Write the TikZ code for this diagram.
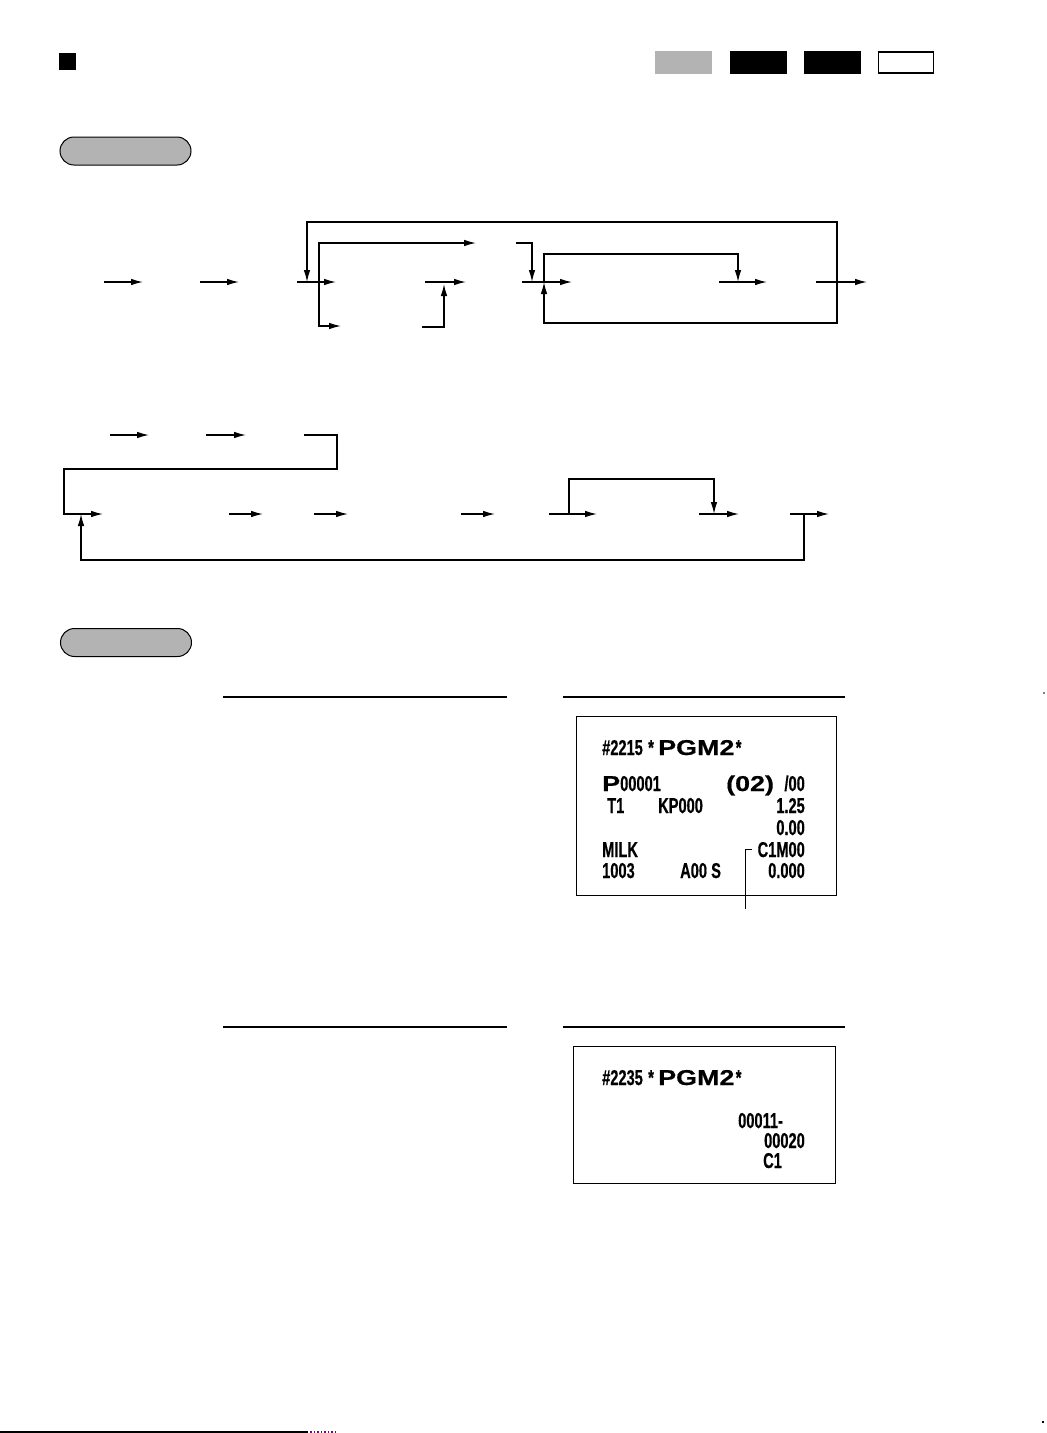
\documentclass[tikz,border=0pt]{standalone}
\usepackage{fontspec}
\usepackage{xcolor}
\usetikzlibrary{arrows.meta, positioning}
\definecolor{keygray}{HTML}{B3B3B3}
\newfontfamily\slipfont{Liberation Sans}[FakeStretch=0.68, FakeBold=0.5]
\newfontfamily\wideslip{Liberation Sans}[FakeStretch=1.25, FakeBold=0.6]

\begin{document}
\begin{tikzpicture}[x=1pt, y=-1pt,
    arrow/.style={line width=1.2pt, -{Latex[length=12pt,width=6.5pt]}},
    tab/.style={inner sep=0, minimum width=57pt, minimum height=23pt},
    pill/.style={draw, line width=1pt, fill=keygray, rounded corners=14pt, minimum width=131pt, minimum height=28pt},
    slip/.style={draw, line width=1pt, inner sep=0},
    rule/.style={line width=1.3pt},
    prt/.style={inner sep=0, anchor=base west, font=\slipfont\bfseries\fontsize{21.5}{24}\selectfont},
    prtr/.style={prt, anchor=base east},
    wide/.style={inner sep=0, anchor=base west, font=\wideslip\bfseries\fontsize{21.5}{24}\selectfont}
]
\useasboundingbox (0,0) rectangle (1047,1433);

\node[fill=black, inner sep=0, minimum size=17pt] (mark) at (67.5,61.5) {};
\node[tab, fill=keygray] (tabA) at (683.5,62.5) {};
\node[tab, fill=black] (tabB) at (758.5,62.5) {};
\node[tab, fill=black] (tabC) at (832.5,62.5) {};
\node[tab, draw, line width=1.5pt, minimum width=55pt, minimum height=21pt] (tabD) at (906,62.5) {};

\node[pill] (proc) at (125.5,151) {};
\node[pill] (exmp) at (126,642.5) {};

% first sequence
\foreach \n/\xa/\xb in {1/104/143, 2/200/239, 3/297/336, 4/425/466, 5/522/572, 6/719/767, 7/816/867}{
  \coordinate (u\n) at (\xa,282);
  \coordinate (v\n) at (\xb,282);
  \draw[arrow] (u\n) -- (v\n);
}
\coordinate (back) at (837,282);
\coordinate (topl) at (307,222);
\coordinate (in1) at (307,282);
\coordinate (botl) at (544,323);
\coordinate (in2) at (544,282);
\draw[arrow] (back) |- (topl) -- (in1);
\draw[arrow] (back) |- (botl) -- (in2);

\coordinate (fork1) at (319,282);
\coordinate (alt1) at (476,243);
\coordinate (alt2) at (341,326);
\draw[arrow] (fork1) |- (alt1);
\draw[arrow] (fork1) |- (alt2);
\coordinate (alt1e) at (516,243);
\coordinate (join2) at (532,282);
\draw[arrow] (alt1e) -| (join2);
\coordinate (alt2e) at (422,327);
\coordinate (join1) at (444,284);
\draw[arrow] (alt2e) -| (join1);

\coordinate (skip) at (738,254);
\coordinate (join3) at (738,282);
\draw[arrow] (in2) |- (skip) -- (join3);

% second sequence
\foreach \n/\xa/\xb in {1/110/149, 2/206/246}{
  \coordinate (w\n) at (\xa,435);
  \coordinate (z\n) at (\xb,435);
  \draw[arrow] (w\n) -- (z\n);
}
\foreach \n/\xa/\xb in {3/229/263, 4/314/348, 5/461/495, 6/549/597, 7/699/739, 8/790/829}{
  \coordinate (w\n) at (\xa,514);
  \coordinate (z\n) at (\xb,514);
  \draw[arrow] (w\n) -- (z\n);
}
\coordinate (wrapA) at (304,435);
\coordinate (wrapB) at (337,469);
\coordinate (wrapC) at (64,514);
\coordinate (in3) at (103,514);
\draw[arrow] (wrapA) -| (wrapB) -| (wrapC) -- (in3);

\coordinate (back2) at (804,514);
\coordinate (botl2) at (81,560);
\coordinate (in4) at (81,514);
\draw[arrow] (back2) |- (botl2) -- (in4);

\coordinate (fork3) at (569,514);
\coordinate (skip2) at (714,479);
\coordinate (join4) at (714,514);
\draw[arrow] (fork3) |- (skip2) -- (join4);

% print outs
\draw[rule] (223,697) -- (507,697);
\draw[rule] (563,697) -- (845,697);
\draw[rule] (223,1027) -- (507,1027);
\draw[rule] (563,1027) -- (845,1027);

\node[slip, minimum width=260pt, minimum height=179pt] (slipA) at (706,805.5) {};
\node[prt] (hdA) at (602,755) {\#2215};
\node[prt] (stA0) at (648,755) {*};
\node[wide] (pgmA) at (658,755) {PGM2};
\node[prt] (stA) at ([xshift=1pt]pgmA.base east) {*};
\node[wide] (pl) at (602,791) {P};
\node[prt] (plno) at (620,791) {00001};
\node[wide] (grp) at (726,791) {(02)};
\node[prtr] (sub) at (805,791) {/00};
\node[prt] (tx) at (607,813) {T1};
\node[prt] (kp) at (658,813) {KP000};
\node[prtr] (pr1) at (805,813) {1.25};
\node[prtr] (pr2) at (805,835) {0.00};
\node[prt] (milk) at (602,857) {MILK};
\node[prtr] (cm) at (805,857) {C1M00};
\node[prt] (dept) at (602,878) {1003};
\node[prt] (ao) at (680,878) {A00};
\node[prt] (st) at (711,878) {S};
\node[prtr] (pr3) at (805,878) {0.000};
\coordinate (callout) at (745,909);
\draw[line width=1pt] (callout) |- ([xshift=-5pt]cm.west);

\node[slip, minimum width=262pt, minimum height=137pt] (slipB) at (704,1114.5) {};
\node[prt] (hdB) at (602,1085) {\#2235};
\node[prt] (stB0) at (648,1085) {*};
\node[wide] (pgmB) at (658,1085) {PGM2};
\node[prt] (stB) at ([xshift=1pt]pgmB.base east) {*};
\node[prt] (from) at (738,1128) {00011-};
\node[prtr] (to) at (805,1148) {00020};
\node[prt] (cls) at (763,1168) {C1};

\draw[line width=1.5pt] (0,1432) -- (308,1432);
\draw[violet, dotted, line width=1.5pt] (310,1432) -- (335,1432);
\fill[gray] (1043,692) rectangle (1045,694);
\fill[black] (1042,1421) rectangle (1044,1423);
\end{tikzpicture}
\end{document}
